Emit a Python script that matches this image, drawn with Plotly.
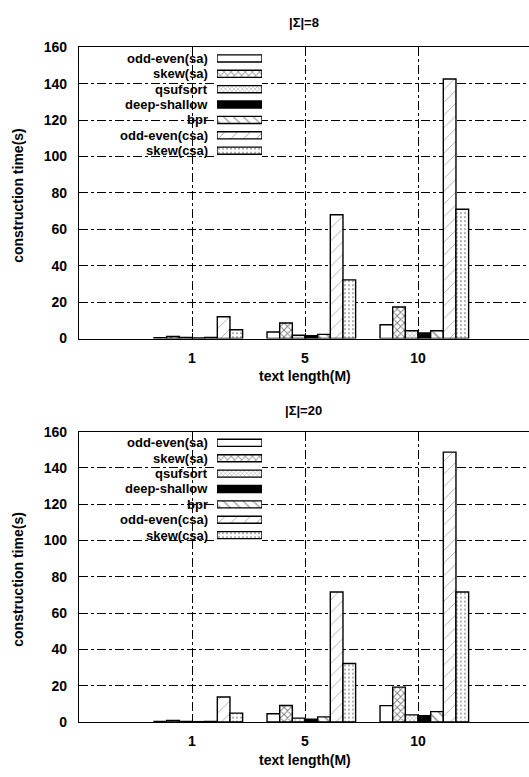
import plotly.graph_objects as go

# ---------------- data ----------------
categories = ["1", "5", "10"]
series_names = ["odd-even(sa)", "skew(sa)", "qsufsort", "deep-shallow",
                "bpr", "odd-even(csa)", "skew(csa)"]

sigma8 = {
    "odd-even(sa)": [0.5, 3.6, 7.6],
    "skew(sa)": [1.1, 8.5, 17.3],
    "qsufsort": [0.6, 1.8, 4.3],
    "deep-shallow": [0.3, 1.5, 3.1],
    "bpr": [0.6, 2.3, 4.3],
    "odd-even(csa)": [12.0, 68.0, 142.5],
    "skew(csa)": [4.8, 32.2, 71.0],
}
sigma20 = {
    "odd-even(sa)": [0.3, 4.5, 9.0],
    "skew(sa)": [0.9, 9.1, 19.2],
    "qsufsort": [0.3, 2.1, 3.9],
    "deep-shallow": [0.2, 1.5, 3.4],
    "bpr": [0.3, 2.8, 5.7],
    "odd-even(csa)": [13.8, 71.6, 148.7],
    "skew(csa)": [4.9, 32.2, 71.6],
}
panel_titles = ["|Σ|=8", "|Σ|=20"]
y_ticks = [0, 20, 40, 60, 80, 100, 120, 140, 160]

# ---------------- styles ----------------
patterns = {
    "odd-even(sa)": dict(shape="", fill="white"),
    "skew(sa)": dict(shape="x", fill="white", size=5, solidity=0.35, fg="black"),
    "qsufsort": dict(shape="x", fill="white", size=3, solidity=0.3, fg="#333"),
    "deep-shallow": dict(shape="", fill="black"),
    "bpr": dict(shape="\\", fill="white", size=7, solidity=0.2, fg="black"),
    "odd-even(csa)": dict(shape="/", fill="white", size=9, solidity=0.1, fg="#555"),
    "skew(csa)": dict(shape=".", fill="white", size=4, solidity=0.22, fg="#444"),
}

W, H = 529, 777
FONT = "Liberation Sans"
FS = 14
LEG_FS = 13
x_left_px = 79
px_per_unit = 113
bar_w = 0.112


def ypaper(px):
    return 1 - px / H


def tfont(size=FS):
    return dict(family=FONT, size=size, color="black", weight="bold")


panels = [
    dict(data=sigma8, top=40, bottom=337.5, title_y=15, xt_y=376),
    dict(data=sigma20, top=432.5, bottom=729, title_y=411, xt_y=768),
]

fig = go.Figure()
layout = dict(
    width=W, height=H, margin=dict(l=0, r=0, t=0, b=0),
    plot_bgcolor="white", paper_bgcolor="white",
    showlegend=False, barmode="overlay",
    font=tfont(),
)
annotations = []

x_positions = [1, 2, 3]
x_range = [0, (W - x_left_px) / px_per_unit]

for p, panel in enumerate(panels):
    xa = "x" if p == 0 else f"x{2 * p + 1}"
    ya = "y" if p == 0 else f"y{2 * p + 1}"
    xa_leg = f"x{2 * p + 2}"
    ya_leg = f"y{2 * p + 2}"
    xk = "xaxis" if p == 0 else f"xaxis{2 * p + 1}"
    yk = "yaxis" if p == 0 else f"yaxis{2 * p + 1}"

    for i, name in enumerate(series_names):
        st = patterns[name]
        pat = dict(shape=st["shape"], fgcolor=st.get("fg", "black"), bgcolor=st["fill"])
        if st["shape"]:
            pat.update(size=st["size"], solidity=st["solidity"])
        fig.add_trace(go.Bar(
            x=x_positions, y=panel["data"][name], name=name,
            width=bar_w, offset=(i - 3) * bar_w,
            marker=dict(color=st["fill"], pattern=pat,
                        line=dict(color="black", width=1.4)),
            xaxis=xa, yaxis=ya,
        ))

    layout[xk] = dict(
        domain=[x_left_px / W, 1], range=x_range, anchor=ya,
        tickvals=x_positions, ticktext=categories,
        ticks="inside", ticklen=5, tickcolor="black",
        showline=True, linecolor="black", linewidth=1.3, mirror="ticks",
        showgrid=True, gridcolor="black", gridwidth=1, griddash="dashdot",
        zeroline=False, ticklabelstandoff=6,
        tickfont=tfont(),
    )
    layout[yk] = dict(
        domain=[ypaper(panel["bottom"]), ypaper(panel["top"])],
        range=[0, 160], anchor=xa, tickvals=y_ticks,
        ticks="inside", ticklen=5, tickcolor="black",
        showline=True, linecolor="black", linewidth=1.3, mirror=False,
        showgrid=True, gridcolor="black", gridwidth=1, griddash="dashdot",
        zeroline=False, ticklabelstandoff=8,
        tickfont=tfont(),
    )

    # legend (gnuplot style: label right-aligned, swatch to the right)
    row_h = 15.7
    first = panel["top"] + 11.5
    leg_top = first - row_h / 2
    leg_bot = leg_top + row_h * len(series_names)
    fig.add_trace(go.Bar(
        y=series_names, x=[1] * len(series_names), orientation="h",
        width=0.46,
        marker=dict(
            color=[patterns[n]["fill"] for n in series_names],
            pattern=dict(
                shape=[patterns[n]["shape"] for n in series_names],
                fgcolor=[patterns[n].get("fg", "black") for n in series_names],
                bgcolor=[patterns[n]["fill"] for n in series_names],
                size=[patterns[n].get("size", 6) for n in series_names],
                solidity=[patterns[n].get("solidity", 0.3) for n in series_names],
            ),
            line=dict(color="black", width=1.4),
        ),
        xaxis=xa_leg, yaxis=ya_leg, hoverinfo="skip",
    ))
    layout[f"xaxis{2 * p + 2}"] = dict(
        domain=[217 / W, 262 / W], range=[0, 1], anchor=ya_leg,
        visible=False, fixedrange=True)
    layout[f"yaxis{2 * p + 2}"] = dict(
        domain=[ypaper(leg_bot), ypaper(leg_top)],
        range=[len(series_names) - 0.5, -0.5], anchor=xa_leg,
        visible=False, fixedrange=True)
    for i, name in enumerate(series_names):
        annotations.append(dict(
            text=name, x=209 / W, y=ypaper(first + i * row_h),
            xref="paper", yref="paper", xanchor="right", yanchor="middle",
            showarrow=False, font=tfont(LEG_FS), borderpad=0))

    # panel title & axis titles
    annotations.append(dict(
        text=panel_titles[p], x=303.5 / W, y=ypaper(panel["title_y"]),
        xref="paper", yref="paper", xanchor="center", yanchor="middle",
        showarrow=False, font=tfont(13)))
    annotations.append(dict(
        text="text length(M)", x=(x_left_px + 2 * px_per_unit) / W,
        y=ypaper(panel["xt_y"]), xref="paper", yref="paper",
        xanchor="center", yanchor="middle", showarrow=False,
        font=tfont()))
    annotations.append(dict(
        text="construction time(s)", x=18 / W,
        y=ypaper((panel["top"] + panel["bottom"]) / 2 + 3),
        xref="paper", yref="paper", xanchor="center", yanchor="middle",
        textangle=-90, showarrow=False, font=tfont()))

layout["annotations"] = annotations
fig.update_layout(**layout)
fig.write_html("out.html")
